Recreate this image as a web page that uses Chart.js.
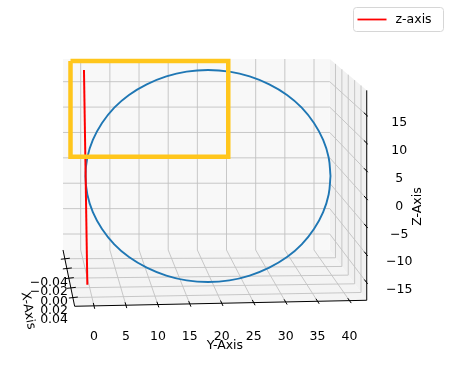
<!DOCTYPE html>
<html lang="en">
<head>
<meta charset="UTF-8">
<title>Circle in the y-z plane</title>
<script src="https://cdn.jsdelivr.net/npm/chart.js"></script>
<style>
  html, body { margin: 0; padding: 0; background: #fff; }
</style>
</head>
<body>
<canvas id="myChart" width="449" height="370"></canvas>
<script>
// circle at x = 0 (y, z)
const circleY = [40, 39.7, 38.8, 37.3, 35.3, 32.9, 30, 26.8, 23.5, 20, 16.5, 13.2, 10, 7.1, 4.7, 2.7, 1.2, 0.3, 0,
                 0.3, 1.2, 2.7, 4.7, 7.1, 10, 13.2, 16.5, 20, 23.5, 26.8, 30, 32.9, 35.3, 37.3, 38.8, 39.7, 40];
const circleZ = [0, 3.5, 6.8, 10, 12.9, 15.3, 17.3, 18.8, 19.7, 20, 19.7, 18.8, 17.3, 15.3, 12.9, 10, 6.8, 3.5, 0,
                 -3.5, -6.8, -10, -12.9, -15.3, -17.3, -18.8, -19.7, -20, -19.7, -18.8, -17.3, -15.3, -12.9, -10, -6.8, -3.5, 0];
// red "z-axis" line
const zLineY = [-0.25, 0.3];
const zLineZ = [20, -20.5];
// yellow frame (on the back pane)
const boxY = [-1.75, 25.3, 25.3, -1.75, -1.75];
const boxZ = [19.1, 19.1, 0.2, 0.2, 19.1];
// ticks and limits
const yTicks = [0, 5, 10, 15, 20, 25, 30, 35, 40];
const zTicks = [-15, -10, -5, 0, 5, 10, 15];
const xTicks = [-0.04, -0.02, 0, 0.02, 0.04];
const yLim = [-3.03, 42.7];
const zLim = [-18.15, 19.47];
const xLim = [-0.058, 0.058];

Chart.defaults.font.family = "'DejaVu Sans', sans-serif";
Chart.defaults.font.size = 12.5;
Chart.defaults.color = '#000';

// chart area (box around the 3d axes)
const L = 63, R = 369, T = 58, B = 306;
const minus = s => String(s).replace('-', '\u2212');

// min/max so that v0 -> p0 and v1 -> p1 in pixels
function hspan(v0, p0, v1, p1) {
    const k = (p1 - p0) / (v1 - v0);
    return { min: v0 + (L - p0) / k, max: v0 + (R - p0) / k };
}
function vspan(v0, p0, v1, p1) {
    const k = (p0 - p1) / (v1 - v0);
    return { min: v0 - (B - p0) / k, max: v0 + (p0 - T) / k };
}
function vspanRev(v0, p0, v1, p1) {
    const k = (p1 - p0) / (v1 - v0);
    return { min: v0 - (p0 - T) / k, max: v0 + (B - p0) / k };
}
const hidden = (pos, span, extra) => Object.assign({ type: 'linear', display: false, position: pos }, span, extra || {});

const toPts = (xs, ys) => xs.map((v, i) => ({ x: v, y: ys[i] }));

const box3d = {
    id: 'box3d',
    beforeDatasetsDraw(chart) {
        const c = chart.ctx, s = chart.scales;
        const bx = v => s.xBack.getPixelForValue(v), bz = v => s.yBack.getPixelForValue(v);
        const fx = v => s.xFront.getPixelForValue(v), fz = v => s.yTick.getPixelForValue(v);
        const tilt = 6;
        const TL = [bx(yLim[0]), bz(zLim[1])], TR = [bx(yLim[1]), bz(zLim[1])];
        const BL = [bx(yLim[0]), bz(zLim[0])], BR = [bx(yLim[1]), bz(zLim[0])];
        const FR = [fx(yLim[1]), fz(zLim[0])], FRT = [fx(yLim[1]), fz(zLim[1])];
        const FL = [fx(yLim[0]), fz(zLim[0]) + tilt];
        const lerp = (p, q, t) => [p[0] + (q[0] - p[0]) * t, p[1] + (q[1] - p[1]) * t];
        const depth = x => (x - xLim[0]) / (xLim[1] - xLim[0]);
        const poly = (pts, fill) => {
            c.beginPath();
            pts.forEach((p, i) => i ? c.lineTo(p[0], p[1]) : c.moveTo(p[0], p[1]));
            c.closePath();
            c.fillStyle = fill;
            c.fill();
        };
        const seg = (p, q) => {
            c.beginPath(); c.moveTo(p[0], p[1]); c.lineTo(q[0], q[1]); c.stroke();
        };
        const frontOf = v => lerp(FL, FR, (fx(v) - FL[0]) / (FR[0] - FL[0]));
        c.save();
        poly([TL, TR, BR, BL], '#f8f8f8');
        poly([TR, FRT, FR, BR], '#f1f1f1');
        poly([BL, BR, FR, FL], '#f4f4f4');

        c.strokeStyle = '#c2c2c2';
        c.lineWidth = 0.9;
        yTicks.forEach(v => {
            seg([bx(v), TL[1]], [bx(v), BL[1]]);
            seg([bx(v), BL[1]], frontOf(v));
        });
        zTicks.forEach(v => {
            seg([TL[0], bz(v)], [TR[0], bz(v)]);
            seg([TR[0], bz(v)], [FR[0], fz(v)]);
        });
        xTicks.forEach(v => {
            const t = depth(v);
            seg(lerp(TR, FRT, t), lerp(BR, FR, t));
            seg(lerp(BL, FL, t), lerp(BR, FR, t));
        });

        // axis lines and tick marks
        c.strokeStyle = '#000';
        c.lineWidth = 1;
        seg(FL, FR);
        seg(FR, FRT);
        seg(BL, FL);
        yTicks.forEach(v => {
            const p = frontOf(v), q = [bx(v), BL[1]];
            const d = Math.hypot(p[0] - q[0], p[1] - q[1]);
            const u = [(p[0] - q[0]) / d, (p[1] - q[1]) / d];
            seg([p[0] - u[0] * 3, p[1] - u[1] * 3], [p[0] + u[0] * 3, p[1] + u[1] * 3]);
        });
        zTicks.forEach(v => {
            const p = [FR[0], fz(v)], q = [TR[0], bz(v)];
            const d = Math.hypot(p[0] - q[0], p[1] - q[1]);
            const u = [(p[0] - q[0]) / d, (p[1] - q[1]) / d];
            seg([p[0] - u[0] * 4, p[1] - u[1] * 4], [p[0] + u[0] * 1.5, p[1] + u[1] * 1.5]);
        });
        xTicks.forEach(v => {
            const p = lerp(BL, FL, depth(v));
            seg([p[0] - 4, p[1] + 0.5], [p[0] + 5, p[1] - 0.5]);
        });

        // x tick labels (they crowd together in the reference)
        c.font = "12.5px 'DejaVu Sans'";
        c.fillStyle = '#000';
        c.textAlign = 'right';
        c.textBaseline = 'middle';
        xTicks.forEach(v => {
            c.fillText(minus(v.toFixed(2)), L + 5, s.yDepth.getPixelForValue(v));
        });
        c.restore();
    },
    afterDraw(chart) {
        const c = chart.ctx, s = chart.scales, a = chart.chartArea;
        c.save();
        c.font = "12.5px 'DejaVu Sans'";
        c.fillStyle = '#000';
        c.textAlign = 'center';
        c.textBaseline = 'middle';
        // axis titles
        c.fillText('Y-Axis', s.xFront.getPixelForValue(20.5), a.bottom + 40);
        c.save();
        c.translate(a.right + 49, s.yFront.getPixelForValue(0));
        c.rotate(-Math.PI / 2);
        c.fillText('Z-Axis', 0, 0);
        c.restore();
        c.save();
        c.translate(a.left - 35, s.yDepth.getPixelForValue(0.02));
        c.rotate(80 * Math.PI / 180);
        c.fillText('X-Axis', 0, 0);
        c.restore();

        // legend
        const items = chart.data.datasets.filter(d => d.label);
        const w = 90, h = 24 * items.length, x0 = chart.width - 5.5 - w, y0 = 7.5;
        c.beginPath();
        c.roundRect(x0, y0, w, h, 3);
        c.fillStyle = 'rgba(255,255,255,0.8)';
        c.fill();
        c.strokeStyle = '#d6d6d6';
        c.lineWidth = 1;
        c.stroke();
        items.forEach((d, i) => {
            const yy = y0 + 12 + i * 24;
            c.strokeStyle = d.borderColor;
            c.lineWidth = 1.8;
            c.beginPath(); c.moveTo(x0 + 4, yy); c.lineTo(x0 + 33, yy); c.stroke();
            c.fillStyle = '#000';
            c.textAlign = 'left';
            c.fillText(d.label, x0 + 42, yy);
        });
        c.restore();
    }
};

const ctx = document.getElementById('myChart').getContext('2d');
const chart = new Chart(ctx, {
    type: 'scatter',
    data: {
        datasets: [
            {
                label: 'z-axis',
                data: toPts(zLineY, zLineZ),
                xAxisID: 'xMid', yAxisID: 'yMid',
                showLine: true, pointRadius: 0,
                borderColor: '#ff0000', borderWidth: 2,
                clip: false, order: 1
            },
            {
                data: toPts(circleY, circleZ),
                xAxisID: 'xMid', yAxisID: 'yMid',
                showLine: true, pointRadius: 0, tension: 0.4,
                borderColor: '#1f77b4', borderWidth: 1.9,
                clip: false, order: 2
            },
            {
                data: toPts(boxY, boxZ),
                xAxisID: 'xBack', yAxisID: 'yBack',
                showLine: true, pointRadius: 0,
                borderColor: '#ffc61c', borderWidth: 4.5,
                borderJoinStyle: 'miter',
                clip: false, order: 0
            }
        ]
    },
    options: {
        responsive: false,
        animation: false,
        events: [],
        layout: { padding: { left: L, top: T, right: 0, bottom: 0 } },
        plugins: { legend: { display: false }, tooltip: { enabled: false } },
        scales: {
            xFront: Object.assign({
                type: 'linear', position: 'bottom',
                grid: { display: false }, border: { display: false },
                afterBuildTicks: sc => { sc.ticks = yTicks.map(v => ({ value: v })); },
                afterFit: sc => { sc.height = 370 - B; },
                ticks: { padding: 15, autoSkip: false, maxRotation: 0, minRotation: 0, callback: v => minus(v) }
            }, hspan(0, 94, 40, 349.5)),
            yFront: Object.assign({
                type: 'linear', position: 'right',
                grid: { display: false }, border: { display: false },
                afterBuildTicks: sc => { sc.ticks = zTicks.map(v => ({ value: v })); },
                afterFit: sc => { sc.width = 449 - R; },
                ticks: { padding: 9, crossAlign: 'center', autoSkip: false, callback: v => minus(v) }
            }, vspan(15, 123, -15, 290)),
            xBack: hidden('bottom', hspan(0, 80.7, 40, 314)),
            yBack: hidden('left', vspan(15, 81.7, -15, 234)),
            xMid: hidden('bottom', hspan(0, 85.5, 40, 330.5)),
            yMid: hidden('left', vspan(20, 70, -20, 282)),
            yTick: hidden('left', vspan(15, 115.3, -15, 282.7)),
            yDepth: hidden('left', vspanRev(-0.04, 282.5, 0.04, 320), { reverse: true })
        }
    },
    plugins: [box3d]
});
</script>
</body>
</html>
